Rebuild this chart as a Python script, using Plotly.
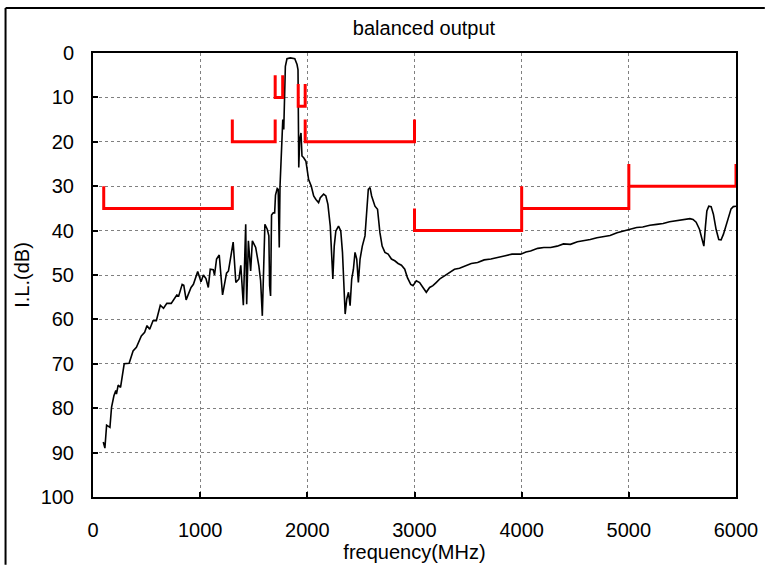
import plotly.graph_objects as go

# Measured curve (frequency in MHz, insertion loss in dB)
freq = [96, 111, 127, 158, 173, 195, 213, 219, 235, 257, 291, 337, 374, 405, 451, 482, 504, 529, 560, 591,
        628, 658, 689, 730, 782, 800, 832, 847, 869, 915, 937, 977, 1008, 1030, 1054, 1076, 1094, 1122, 1134, 1153,
        1178, 1209, 1246, 1264, 1308, 1333, 1362, 1379, 1403, 1425, 1434, 1450, 1471, 1487, 1518, 1548, 1564, 1580,
        1604, 1626, 1641, 1648, 1657, 1666, 1682, 1695, 1703, 1719, 1728, 1738, 1745, 1749, 1759, 1765, 1771, 1780,
        1790, 1795, 1810, 1842, 1883, 1904, 1913, 1916, 1920, 1929, 1941, 1950, 1966, 1987, 1997, 2012, 2037, 2059,
        2080, 2105, 2121, 2152, 2173, 2192, 2214, 2229, 2238, 2251, 2266, 2291, 2312, 2328, 2340, 2353, 2368, 2384,
        2399, 2414, 2430, 2445, 2461, 2476, 2492, 2513, 2538, 2553, 2569, 2585, 2600, 2631, 2655, 2677, 2698, 2724,
        2754, 2785, 2816, 2847, 2878, 2909, 2934, 2965, 2986, 3017, 3048, 3079, 3110, 3141, 3172, 3202, 3240, 3280,
        3330, 3373, 3420, 3466, 3530, 3589, 3650, 3713, 3780, 3837, 3910, 3991, 4040, 4083, 4150, 4207, 4270, 4331,
        4390, 4455, 4520, 4578, 4640, 4702, 4760, 4825, 4890, 4949, 5010, 5073, 5130, 5196, 5260, 5320, 5380, 5444,
        5490, 5537, 5570, 5599, 5628, 5659, 5684, 5700, 5715, 5728, 5746, 5768, 5789, 5814, 5839, 5861, 5883, 5907,
        5932, 5954, 5975, 6000]
il = [87.6, 89.0, 83.8, 84.3, 79.8, 77.2, 76.0, 76.8, 74.8, 75.3, 70.0, 69.9, 67.1, 66.3, 63.7, 62.9, 61.4, 62.2, 60.3, 60.3,
      56.8, 57.5, 56.4, 56.4, 54.5, 54.7, 52.1, 52.3, 55.6, 52.8, 52.1, 49.2, 51.5, 50.0, 50.8, 52.8, 48.7, 48.8, 50.0, 46.4,
      45.5, 54.5, 49.6, 49.1, 42.6, 51.7, 50.9, 47.8, 56.8, 38.6, 56.6, 42.3, 49.1, 42.3, 43.8, 48.0, 51.3, 59.2,
      38.6, 39.7, 41.2, 52.4, 54.7, 36.5, 36.0, 36.0, 32.0, 30.5, 30.7, 43.8, 30.0, 27.0, 19.5, 16.0, 15.0, 17.2,
      8.2, 3.0, 1.3, 1.1, 1.3, 2.6, 3.8, 10.5, 25.8, 19.5, 18.0, 23.2, 23.6, 24.4, 26.2, 28.5, 30.0, 32.2,
      33.0, 33.7, 32.6, 31.8, 32.2, 34.1, 39.0, 44.9, 50.9, 43.5, 40.1, 39.0, 40.1, 44.9, 50.9, 58.8, 55.4, 53.9,
      56.9, 50.9, 48.7, 44.9, 46.4, 51.7, 46.4, 43.5, 41.2, 35.2, 30.7, 30.3, 32.2, 34.5, 35.2, 40.4, 43.5, 44.9,
      45.3, 46.4, 46.8, 47.4, 47.8, 48.7, 50.6, 52.1, 52.4, 51.3, 51.7, 52.8, 53.9, 52.8, 52.4, 51.7, 50.8, 50.2,
      49.3, 48.7, 48.5, 48.0, 47.4, 47.2, 46.6, 46.4, 46.1, 45.7, 45.3, 45.3, 44.8, 44.6, 44.0, 43.8, 43.8, 43.5,
      43.0, 43.1, 42.5, 42.3, 42.0, 41.6, 41.4, 41.1, 40.5, 40.1, 39.8, 39.3, 39.2, 38.8, 38.6, 38.4, 38.0, 37.8,
      37.6, 37.5, 37.3, 37.5, 38.1, 39.7, 42.0, 43.5, 39.0, 35.6, 34.5, 34.6, 36.3, 39.7, 42.0, 42.1, 40.8, 39.0,
      37.1, 35.1, 34.6, 34.5]

# Specification mask (red), segments separated by None
mask_x = [100, 100, 1300, 1300, None,
          1300, 1300, 1700, 1700, None,
          1700, 1700, 1770, 1770, None,
          1915, 1915, 1980, 1980, None,
          1980, 1980, 3000, 3000, None,
          3000, 3000, 4000, 4000, None,
          4000, 5000, 5000, None,
          5000, 6000, 6000]
mask_y = [30, 35, 35, 30, None,
          15, 20, 20, 15, None,
          5, 10, 10, 5, None,
          7, 12, 12, 7, None,
          15, 20, 20, 15, None,
          35, 40, 40, 30, None,
          35, 35, 25, None,
          30, 30, 25]

x_ticks = [0, 1000, 2000, 3000, 4000, 5000, 6000]
y_ticks = [0, 10, 20, 30, 40, 50, 60, 70, 80, 90, 100]

FONT = "Liberation Sans, Arial, sans-serif"
PW, PH = 647, 445  # plot-area size in px

fig = go.Figure()
fig.add_trace(go.Scatter(x=freq, y=il, mode="lines",
                         line=dict(color="black", width=1.6), showlegend=False))
fig.add_trace(go.Scatter(x=mask_x, y=mask_y, mode="lines",
                         line=dict(color="#ff0000", width=3), connectgaps=False, showlegend=False))

fig.update_layout(
    width=770, height=567,
    margin=dict(l=93, r=30, t=53, b=69),
    paper_bgcolor="white", plot_bgcolor="white",
    font=dict(family=FONT, size=20, color="black"),
    title=dict(text="balanced output", x=424 / 770, xref="container", xanchor="center",
               y=1 - 28 / 567, yref="container", yanchor="middle",
               font=dict(family=FONT, size=20, color="black")),
    xaxis=dict(range=[0, 6000], tickvals=x_ticks, ticktext=[str(v) for v in x_ticks],
               showgrid=True, gridcolor="#808080", griddash="dot", gridwidth=1,
               showline=True, mirror=True, linecolor="black", linewidth=2,
               ticks="inside", ticklen=5, tickcolor="black", tickwidth=1.5,
               ticklabelstandoff=14, zeroline=False,
               title=dict(text="frequency(MHz)", standoff=0,
                          font=dict(family=FONT, size=20))),
    yaxis=dict(range=[100, 0], tickvals=y_ticks, ticktext=[str(v) for v in y_ticks],
               showgrid=True, gridcolor="#808080", griddash="dot", gridwidth=1,
               showline=True, mirror=True, linecolor="black", linewidth=2,
               ticks="inside", ticklen=5, tickcolor="black", tickwidth=1.5,
               ticklabelstandoff=13, zeroline=False,
               title=dict(text="I.L.(dB)", standoff=6,
                          font=dict(family=FONT, size=20))),
    shapes=[dict(type="line", xref="paper", yref="paper",
                 x0=(5 - 93) / PW, x1=(5 - 93) / PW,
                 y0=(498 - 8) / PH, y1=(498 - 566) / PH,
                 line=dict(color="black", width=2)),
            dict(type="line", xref="paper", yref="paper",
                 x0=(5 - 93) / PW, x1=(769 - 93) / PW,
                 y0=(498 - 8) / PH, y1=(498 - 8) / PH,
                 line=dict(color="black", width=2))],
)

fig.write_html("out.html", config={"displayModeBar": False},
               post_script="document.body.style.margin='0';document.body.style.padding='0';"
                           "document.documentElement.style.overflow='hidden';")
